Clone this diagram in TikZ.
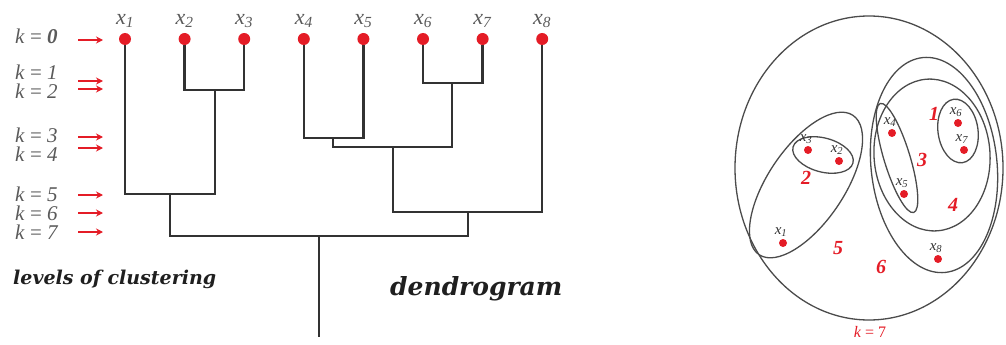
\documentclass[tikz,border=0pt]{standalone}
\usepackage{fontspec}
\setmainfont{Liberation Serif}
\newfontfamily\capfont{DejaVu Serif}
\usetikzlibrary{positioning,arrows.meta}

\definecolor{dotred}{RGB}{228,28,38}
\definecolor{linegray}{RGB}{50,50,50}
\definecolor{textgray}{RGB}{90,90,90}
\definecolor{hullgray}{RGB}{75,75,75}

\newcommand{\xlab}[1]{\textit{x}\textsubscript{\textit{#1}}}

\tikzset{
  leaf/.style={circle,fill=dotred,inner sep=0pt,minimum size=12pt},
  pnt/.style={circle,fill=dotred,inner sep=0pt,minimum size=8pt},
  leaflab/.style={inner sep=0pt,text=textgray,font=\fontsize{22}{22}\selectfont},
  pntlab/.style={inner sep=0pt,text=linegray,font=\fontsize{15}{15}\selectfont},
  klab/.style={anchor=west,inner sep=0pt,text=textgray,font=\fontsize{21}{21}\selectfont},
  branch/.style={draw=linegray,line width=2.5pt},
  hull/.style={draw=hullgray,line width=1.3pt},
  level/.style={-{Stealth[length=7pt,width=7pt]},draw=dotred,line width=2.4pt},
  clnum/.style={text=dotred,font=\fontsize{20}{20}\selectfont\bfseries\itshape},
  caption/.style={anchor=west,text=black!88,inner sep=0pt}
}

\begin{document}
\begin{tikzpicture}[x=1pt,y=-1pt]
  \useasboundingbox (0,0) rectangle (1006,345);

  % leaves of the dendrogram
  \foreach \i in {1,...,8}{
    \node[leaf] (x\i) at ({125+59.6*(\i-1)},39) {};
    \node[leaflab,above=5pt of x\i] (l\i) {\xlab{\i}};
  }

  % merge points
  \coordinate (m23) at (215,90);
  \coordinate (m67) at (452,83);
  \coordinate (m45) at (333,138);
  \coordinate (m4567) at (393,147);
  \coordinate (m123) at (170,194);
  \coordinate (m45678) at (468,212);
  \coordinate (root) at (319,236);
  \coordinate (base) at (319,337);

  \draw[branch] (x2) |- (m23) -| (x3);
  \draw[branch] (x6) |- (m67) -| (x7);
  \draw[branch] (x4) |- (m45) -| (x5);
  \draw[branch] (m45) |- (m4567) -| (m67);
  \draw[branch] (x1) |- (m123) -| (m23);
  \draw[branch] (m4567) |- (m45678) -| (x8);
  \draw[branch] (m123) |- (root) -| (m45678);
  \draw[branch] (root) -- (base);

  % levels
  \node[klab] (k0) at (15,36) {\textit{k} = \textbf{\textit{0}}};
  \node[klab] (k1) at (15,72) {\textit{k} = \textit{1}};
  \node[klab] (k2) at (15,91) {\textit{k} = \textit{2}};
  \node[klab] (k3) at (15,135) {\textit{k} = \textit{3}};
  \node[klab] (k4) at (15,154) {\textit{k} = \textit{4}};
  \node[klab] (k5) at (15,194) {\textit{k} = \textit{5}};
  \node[klab] (k6) at (15,213) {\textit{k} = \textit{6}};
  \node[klab] (k7) at (15,232) {\textit{k} = \textit{7}};
  \foreach \y [count=\j] in {40,81,89,137,148,195,213,232}{
    \coordinate (ar\j) at (78,\y);
    \draw[level] (ar\j) -- ++(25,0);
  }

  \node[caption,font=\fontsize{19}{19}\capfont\bfseries\itshape] (lvl) at (13,279) {levels of clustering};
  \node[caption,font=\fontsize{25}{25}\capfont\bfseries\itshape] (dend) at (390,289) {dendrogram};

  % nested clusters
  \draw[hull] (869,168) ellipse [x radius=134pt,y radius=152pt];
  \draw[hull,shift={(806,185)},rotate=56] (0,0) ellipse [x radius=84pt,y radius=38pt];
  \draw[hull,shift={(823,155)},rotate=-15] (0,0) ellipse [x radius=31pt,y radius=17pt];
  \draw[hull,shift={(934,165)},rotate=6] (0,0) ellipse [x radius=63pt,y radius=108pt];
  \draw[hull,shift={(932,155)},rotate=4] (0,0) ellipse [x radius=58pt,y radius=76pt];
  \draw[hull,shift={(897,158)},rotate=17] (0,0) ellipse [x radius=13pt,y radius=57pt];
  \draw[hull,shift={(958,131)},rotate=8] (0,0) ellipse [x radius=20pt,y radius=32pt];

  \node[pnt] (p1) at (783,243) {};
  \node[pnt] (p2) at (839,161) {};
  \node[pnt] (p3) at (808,150) {};
  \node[pnt] (p4) at (892,133) {};
  \node[pnt] (p5) at (904,194) {};
  \node[pnt] (p6) at (958,123) {};
  \node[pnt] (p7) at (964,150) {};
  \node[pnt] (p8) at (938,259) {};
  \foreach \i in {1,...,8}
    \node[pntlab,above=2pt of p\i,xshift=-2pt] (q\i) {\xlab{\i}};

  \node[clnum] (c1) at (934,114) {1};
  \node[clnum] (c2) at (806,178) {2};
  \node[clnum] (c3) at (922,160) {3};
  \node[clnum] (c4) at (953,205) {4};
  \node[clnum] (c5) at (838,248) {5};
  \node[clnum] (c6) at (881,267) {6};
  \node[text=dotred,font=\fontsize{16}{16}\selectfont] (kseven) at (870,332) {\textit{k} = 7};
\end{tikzpicture}
\end{document}
